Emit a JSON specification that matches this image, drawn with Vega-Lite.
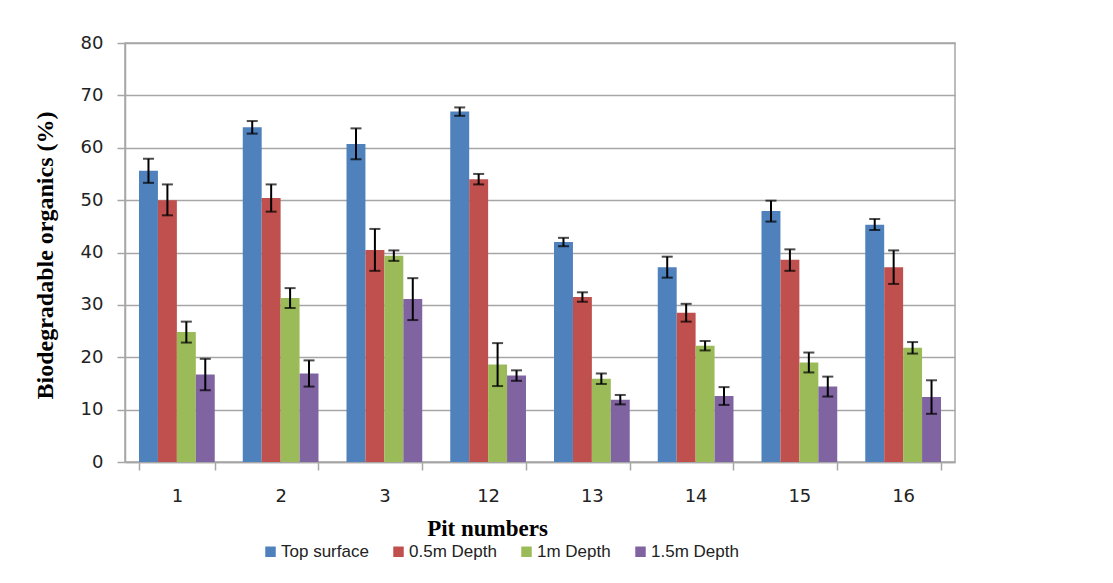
{
  "$schema": "https://vega.github.io/schema/vega-lite/v6.json",
  "width": 830,
  "height": 419,
  "autosize": {"type": "none"},
  "padding": {"left": 125, "top": 43, "right": 158, "bottom": 121},
  "background": "white",
  "config": {
    "view": {"stroke": "#a6a6a6", "strokeWidth": 1.5},
    "axis": {
      "domainColor": "#a6a6a6",
      "domainWidth": 1.5,
      "tickColor": "#a6a6a6",
      "tickWidth": 1.5,
      "tickSize": 8,
      "labelFont": "DejaVu Sans",
      "labelFontSize": 18,
      "labelColor": "#222222",
      "titleFont": "Liberation Serif",
      "titleFontWeight": "bold",
      "titleColor": "black"
    }
  },
  "data": {
    "values": [
      {"pit": "1", "depth": "Top surface", "value": 55.6, "lo": 53.3, "hi": 57.9},
      {"pit": "1", "depth": "0.5m Depth", "value": 50.0, "lo": 47.1, "hi": 53.0},
      {"pit": "1", "depth": "1m Depth", "value": 24.8, "lo": 22.8, "hi": 26.8},
      {"pit": "1", "depth": "1.5m Depth", "value": 16.7, "lo": 13.7, "hi": 19.7},
      {"pit": "2", "depth": "Top surface", "value": 63.9, "lo": 62.7, "hi": 65.1},
      {"pit": "2", "depth": "0.5m Depth", "value": 50.4, "lo": 47.8, "hi": 53.0},
      {"pit": "2", "depth": "1m Depth", "value": 31.3, "lo": 29.4, "hi": 33.2},
      {"pit": "2", "depth": "1.5m Depth", "value": 16.9, "lo": 14.4, "hi": 19.4},
      {"pit": "3", "depth": "Top surface", "value": 60.7, "lo": 57.8, "hi": 63.7},
      {"pit": "3", "depth": "0.5m Depth", "value": 40.5, "lo": 36.5, "hi": 44.5},
      {"pit": "3", "depth": "1m Depth", "value": 39.4, "lo": 38.4, "hi": 40.4},
      {"pit": "3", "depth": "1.5m Depth", "value": 31.1, "lo": 27.1, "hi": 35.1},
      {"pit": "12", "depth": "Top surface", "value": 66.9, "lo": 66.1, "hi": 67.7},
      {"pit": "12", "depth": "0.5m Depth", "value": 54.0, "lo": 53.0, "hi": 55.0},
      {"pit": "12", "depth": "1m Depth", "value": 18.6, "lo": 14.5, "hi": 22.7},
      {"pit": "12", "depth": "1.5m Depth", "value": 16.5, "lo": 15.5, "hi": 17.5},
      {"pit": "13", "depth": "Top surface", "value": 42.0, "lo": 41.2, "hi": 42.8},
      {"pit": "13", "depth": "0.5m Depth", "value": 31.5, "lo": 30.6, "hi": 32.4},
      {"pit": "13", "depth": "1m Depth", "value": 15.9, "lo": 14.9, "hi": 16.9},
      {"pit": "13", "depth": "1.5m Depth", "value": 11.9, "lo": 11.0, "hi": 12.8},
      {"pit": "14", "depth": "Top surface", "value": 37.2, "lo": 35.2, "hi": 39.2},
      {"pit": "14", "depth": "0.5m Depth", "value": 28.5, "lo": 26.8, "hi": 30.2},
      {"pit": "14", "depth": "1m Depth", "value": 22.2, "lo": 21.3, "hi": 23.1},
      {"pit": "14", "depth": "1.5m Depth", "value": 12.6, "lo": 10.9, "hi": 14.3},
      {"pit": "15", "depth": "Top surface", "value": 47.9, "lo": 45.9, "hi": 49.9},
      {"pit": "15", "depth": "0.5m Depth", "value": 38.6, "lo": 36.5, "hi": 40.6},
      {"pit": "15", "depth": "1m Depth", "value": 19.0, "lo": 17.1, "hi": 20.9},
      {"pit": "15", "depth": "1.5m Depth", "value": 14.4, "lo": 12.5, "hi": 16.3},
      {"pit": "16", "depth": "Top surface", "value": 45.3, "lo": 44.3, "hi": 46.4},
      {"pit": "16", "depth": "0.5m Depth", "value": 37.2, "lo": 34.0, "hi": 40.4},
      {"pit": "16", "depth": "1m Depth", "value": 21.8, "lo": 20.7, "hi": 22.9},
      {"pit": "16", "depth": "1.5m Depth", "value": 12.4, "lo": 9.2, "hi": 15.6}
    ]
  },
  "encoding": {
    "x": {
      "field": "pit",
      "type": "nominal",
      "sort": ["1", "2", "3", "12", "13", "14", "15", "16"],
      "scale": {"paddingInner": 0.27, "paddingOuter": 0.135},
      "title": "Pit numbers",
      "axis": {
        "labelAngle": 0,
        "tickBand": "extent",
        "labelBaseline": "top",
        "labelPadding": 17,
        "titleFontSize": 23,
        "titleX": 362,
        "titleY": 73,
        "titleBaseline": "alphabetic"
      }
    },
    "xOffset": {
      "field": "depth",
      "type": "nominal",
      "sort": ["Top surface", "0.5m Depth", "1m Depth", "1.5m Depth"],
      "scale": {"paddingInner": 0, "paddingOuter": 0}
    }
  },
  "layer": [
    {
      "mark": {"type": "bar"},
      "encoding": {
        "y": {
          "field": "value",
          "type": "quantitative",
          "scale": {"domain": [0, 80]},
          "title": "Biodegradable organics (%)",
          "axis": {
            "values": [0, 10, 20, 30, 40, 50, 60, 70, 80],
            "grid": true,
            "gridColor": "#a6a6a6",
            "gridWidth": 1.5,
            "labelPadding": 14,
            "titleFontSize": 24,
            "titleX": -80,
            "titleY": 212,
            "titleAngle": -90,
            "titleBaseline": "middle"
          }
        },
        "color": {
          "field": "depth",
          "type": "nominal",
          "scale": {
            "domain": ["Top surface", "0.5m Depth", "1m Depth", "1.5m Depth"],
            "range": ["#4F81BD", "#C0504D", "#9BBB59", "#8064A2"]
          },
          "legend": {
            "title": null,
            "orient": "none",
            "direction": "horizontal",
            "legendX": 137,
            "legendY": 500,
            "padding": 0,
            "symbolType": "square",
            "symbolSize": 110,
            "symbolStrokeWidth": 0,
            "labelFont": "Liberation Sans",
            "labelFontSize": 17,
            "labelColor": "#222222",
            "labelOffset": 2,
            "columnPadding": 21
          }
        }
      }
    },
    {
      "mark": {"type": "rule", "color": "black", "strokeWidth": 2},
      "encoding": {
        "y": {"field": "lo", "type": "quantitative"},
        "y2": {"field": "hi"}
      }
    },
    {
      "mark": {"type": "tick", "color": "black", "thickness": 2, "size": 11},
      "encoding": {"y": {"field": "lo", "type": "quantitative"}}
    },
    {
      "mark": {"type": "tick", "color": "black", "thickness": 2, "size": 11},
      "encoding": {"y": {"field": "hi", "type": "quantitative"}}
    }
  ]
}
